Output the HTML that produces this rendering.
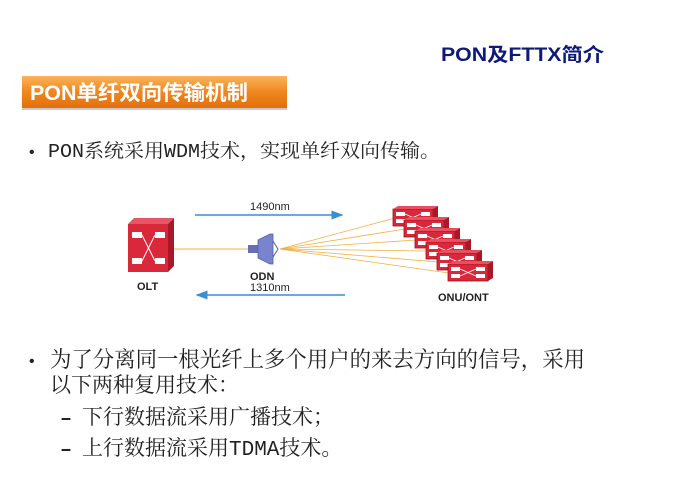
<!DOCTYPE html>
<html><head><meta charset="utf-8"><style>
html,body{margin:0;padding:0;background:#fff;width:688px;height:479px;overflow:hidden}
</style></head><body>
<svg width="688" height="479" viewBox="0 0 688 479" xmlns="http://www.w3.org/2000/svg">
<defs>
<linearGradient id="og" x1="0" y1="0" x2="0" y2="1">
<stop offset="0" stop-color="#f9b45a"/><stop offset="0.5" stop-color="#f0861e"/><stop offset="1" stop-color="#e2700c"/>
</linearGradient>
<marker id="ah" markerWidth="8" markerHeight="8" refX="7" refY="4" orient="auto"><path d="M0,1 L8,4 L0,7 z" fill="#3a8fd0"/></marker>
<g id="onu">
<rect x="0" y="0" width="40" height="17" fill="#d8283a" stroke="#a0101e" stroke-width="0.8"/>
<path d="M0,0 l5,-3 h40 l-5,3 z" fill="#e65060"/>
<path d="M40,0 l5,-3 v17 l-5,3 z" fill="#a81828"/>
<rect x="3" y="3" width="9" height="4" fill="#fff"/><rect x="28" y="3" width="9" height="4" fill="#fff"/>
<rect x="3" y="10" width="9" height="4" fill="#fff"/><rect x="28" y="10" width="9" height="4" fill="#fff"/>
<path d="M12,5 L28,12 M12,12 L28,5" stroke="#fff" stroke-width="0.8"/>
</g>
</defs>
<text x="441" y="61" font-family="Liberation Sans, Noto Sans CJK SC, sans-serif" font-size="19" font-weight="bold" fill="#0d1a7a" textLength="163" lengthAdjust="spacingAndGlyphs">PON及FTTX简介</text>
<rect x="22" y="76" width="265" height="32" fill="url(#og)"/>
<rect x="22" y="108" width="265" height="2" fill="#c9c9c9"/>
<text x="30" y="100" font-family="Liberation Sans, Noto Sans CJK SC, sans-serif" font-size="21" font-weight="bold" fill="#fff" textLength="218" lengthAdjust="spacingAndGlyphs">PON单纤双向传输机制</text>
<g font-family="Liberation Mono, Noto Serif CJK SC, serif" fill="#222">
<text x="27" y="157" font-size="16">•</text>
<text x="48" y="157" font-size="19" textLength="392" lengthAdjust="spacingAndGlyphs">PON系统采用WDM技术，实现单纤双向传输。</text>
<text x="27" y="366" font-size="16">•</text>
<text x="50" y="367" font-size="22" textLength="535" lengthAdjust="spacingAndGlyphs">为了分离同一根光纤上多个用户的来去方向的信号，采用</text>
<text x="50" y="392" font-size="21">以下两种复用技术：</text>
<text x="60" y="424" font-size="20" font-weight="bold">–</text>
<text x="82" y="424" font-size="21">下行数据流采用广播技术；</text>
<text x="60" y="455" font-size="20" font-weight="bold">–</text>
<text x="82" y="455" font-size="21">上行数据流采用TDMA技术。</text>
</g>
<g font-family="Liberation Sans, sans-serif" font-weight="bold" fill="#222">
<text x="250" y="210" font-size="11" font-weight="normal">1490nm</text>
<text x="137" y="290" font-size="11">OLT</text>
<text x="250" y="280" font-size="11">ODN</text>
<text x="250" y="291" font-size="11" font-weight="normal">1310nm</text>
<text x="438" y="301" font-size="11">ONU/ONT</text>
</g>
<line x1="195" y1="215" x2="342" y2="215" stroke="#3a8fd0" stroke-width="1.5" marker-end="url(#ah)"/>
<line x1="345" y1="295" x2="197" y2="295" stroke="#3a8fd0" stroke-width="1.5" marker-end="url(#ah)"/>
<path d="M128,224 l6,-6 h40 l-6,6 z" fill="#e85566"/>
<path d="M168,224 l6,-6 v48 l-6,6 z" fill="#a81828"/>
<rect x="128" y="224" width="40" height="48" fill="#d8283a"/>
<rect x="132" y="232" width="10" height="6" fill="#fff"/><rect x="155" y="232" width="10" height="6" fill="#fff"/>
<rect x="132" y="258" width="10" height="6" fill="#fff"/><rect x="155" y="258" width="10" height="6" fill="#fff"/>
<path d="M142,235 L155,261 M142,261 L155,235" stroke="#fff" stroke-width="1"/>
<line x1="174" y1="249" x2="250" y2="249" stroke="#f0b040" stroke-width="1"/>
<rect x="248" y="245" width="10" height="8" fill="#6670b8"/>
<path d="M258,240 l12,-6 h3 v30 h-3 l-12,-6 z" fill="#7a84cc" stroke="#555fa8" stroke-width="0.8"/>
<path d="M273,241 l5,8 l-5,8" stroke="#555fa8" fill="none" stroke-width="1"/>
<g stroke="#f0b040" stroke-width="0.8">
<line x1="280" y1="249" x2="395" y2="218"/>
<line x1="280" y1="249" x2="405" y2="229"/>
<line x1="280" y1="249" x2="416" y2="240"/>
<line x1="280" y1="249" x2="427" y2="251"/>
<line x1="280" y1="249" x2="438" y2="262"/>
<line x1="280" y1="249" x2="449" y2="273"/>
</g>
<use href="#onu" x="393" y="209"/>
<use href="#onu" x="404" y="220"/>
<use href="#onu" x="415" y="231"/>
<use href="#onu" x="426" y="242"/>
<use href="#onu" x="437" y="253"/>
<use href="#onu" x="448" y="264"/>
</svg>
</body></html>
